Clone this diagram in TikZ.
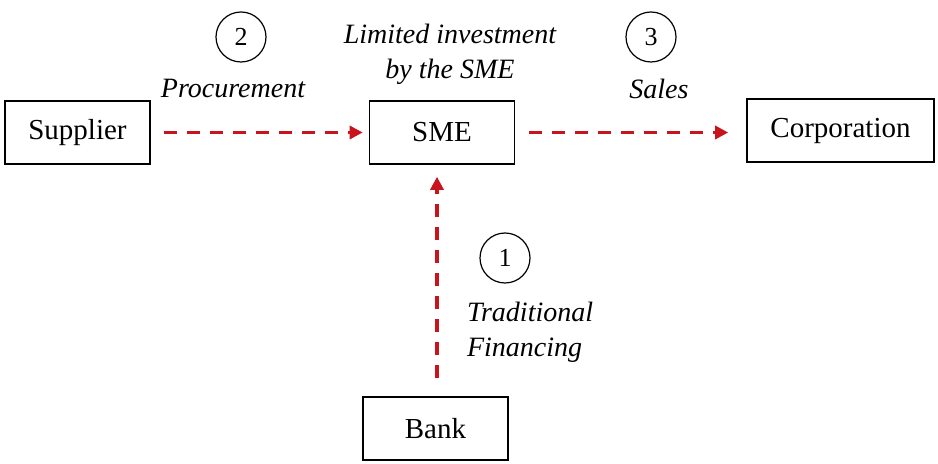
\documentclass[tikz,border=0pt]{standalone}
\usepackage{fontspec}
\setmainfont{Liberation Serif}
\usepackage{xcolor}
\usepackage{tikz}
\usetikzlibrary{arrows.meta}
\definecolor{flowred}{RGB}{200,20,28}

\begin{document}
\begin{tikzpicture}[x=0.5pt,y=-0.5pt,font=\fontsize{14.5}{16}\selectfont,
  party/.style={draw,line width=0.8pt,minimum width=72.5pt,minimum height=31.5pt,inner sep=0pt},
  stepno/.style={circle,draw,line width=0.6pt,minimum size=25pt,inner sep=0pt,font=\fontsize{13}{16}\selectfont},
  flow/.style={-{Triangle[length=6.5pt,width=6.5pt]},flowred,line width=1.6pt,dash pattern=on 6.5pt off 5pt},
  note/.style={font=\fontsize{14}{17.5}\selectfont\itshape,align=center}]
  \useasboundingbox (0,0) rectangle (938,464);
  \node[party] (sup) at (77.5,132.5) {Supplier};
  \node[party] (sme) at (442,132.5) {SME};
  \node[party,minimum width=93.5pt] (corp) at (840.5,130.5) {Corporation};
  \node[party] (bank) at (435.5,428.5) {Bank};
  \draw[flow,shorten <=6.5pt,shorten >=3pt] (sup) -- (sup -| sme.west);
  \draw[flow,shorten <=7pt,shorten >=9pt] (sme) -- (sme -| corp.west);
  \draw[flow,shorten <=9pt,shorten >=6pt] ([xshift=0.75pt]bank.north) -- ([xshift=0.75pt]bank.north |- sme.south);
  \foreach \n/\x/\y in {2/241/37,3/651/37,1/505/258}{
    \node[stepno] (s\n) at (\x,\y) {\n};}
  \node[note] (proc) at (233,89) {Procurement};
  \node[note] (inv) at (450,54) {Limited investment\\by the SME};
  \node[note] (sales) at (659,89) {Sales};
  \node[note,align=left,anchor=west] (fin) at (460,332) {Traditional\\Financing};
\end{tikzpicture}
\end{document}
